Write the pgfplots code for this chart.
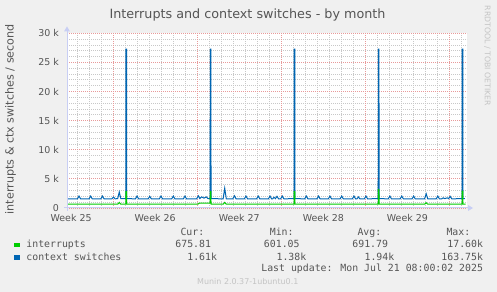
\documentclass[border=0pt]{standalone}
\usepackage{fontspec}
\setmainfont{DejaVu Sans}
\newfontfamily\monofont{DejaVu Sans Mono}
\usepackage{pgfplots}
\pgfplotsset{compat=1.18}
\definecolor{bg}{HTML}{F0F0F0}
\definecolor{txt}{HTML}{555555}
\definecolor{faint}{HTML}{C4C4C4}
\definecolor{axisc}{HTML}{C8CEF4}
\definecolor{gridc}{HTML}{C8C8C8}
\definecolor{mgridc}{HTML}{E89A9A}
\definecolor{cblue}{HTML}{0066B3}
\definecolor{cgreen}{HTML}{00CC00}
\begin{document}
\begin{tikzpicture}
\path[use as bounding box, fill=bg] (0bp,0bp) rectangle (497bp,292bp);
\begin{axis}[
  at={(67bp,84bp)}, anchor=south west,
  scale only axis, width=400bp, height=174.7bp,
  xmin=0, xmax=33.3, ymin=0, ymax=30000,
  clip=false,
  scaled y ticks=false, scaled x ticks=false,
  axis background/.style={fill=white},
  axis line style={draw=none},
  major tick length=0pt, minor tick length=0pt,
  tick style={draw=none},
  xtick={0.34,7.34,14.34,21.34,28.34},
  xticklabels={Week 25,Week 26,Week 27,Week 28,Week 29},
  minor xtick={0.84,1.84,2.84,4.84,5.84,6.84,7.84,8.84,9.84,11.84,12.84,13.84,14.84,15.84,16.84,18.84,19.84,20.84,21.84,22.84,23.84,25.84,26.84,27.84,28.84,29.84,30.84,32.84},
  extra x ticks={3.84,10.84,17.84,24.84,31.84},
  extra x tick labels={},
  extra x tick style={xmajorgrids=true},
  xmajorgrids=false, xminorgrids=true,
  ytick={0,5000,10000,15000,20000,25000,30000},
  yticklabels={0,5 k,10 k,15 k,20 k,25 k,30 k},
  minor ytick={1000,2000,3000,4000,6000,7000,8000,9000,11000,12000,13000,14000,16000,17000,18000,19000,21000,22000,23000,24000,26000,27000,28000,29000},
  ymajorgrids=true, yminorgrids=true,
  minor grid style={gridc, dash pattern=on 1bp off 1bp, line width=0.8bp},
  major grid style={mgridc, dash pattern=on 1bp off 1bp, line width=0.8bp},
  ticklabel style={font=\fontsize{9.5}{11}\selectfont, text=txt},
  yticklabel style={xshift=-4.5bp},
  xticklabel style={yshift=-3bp},
]
\addplot[cblue, line width=1bp, mark=none] coordinates {
(0,1580)
(0.87,1580)(1.00,2050)(1.13,1580)
(1.84,1580)(1.97,2050)(2.10,1580)
(2.82,1580)(2.95,2050)(3.08,1580)
(3.74,1580)(3.87,1870)(4.00,1580)
(4.22,1600)(4.35,2750)(4.48,1600)
(4.90,1600)(4.91,27300)(4.96,27300)(4.97,1600)
(5.70,1580)(5.83,2050)(5.96,1580)
(6.76,1580)(6.89,2000)(7.02,1580)
(7.69,1580)(7.82,2050)(7.95,1580)
(8.72,1580)(8.85,2050)(8.98,1580)
(9.69,1580)(9.82,2050)(9.95,1580)
(10.80,1580)(10.93,2080)(11.06,1620)(11.2,1900)(11.4,1700)(11.6,1900)(11.75,1600)
(11.92,1600)(11.93,27300)(11.98,27300)(11.99,1600)
(13.00,1580)(13.13,3400)(13.26,1580)
(13.81,1580)(13.94,2100)(14.07,1580)
(14.77,1580)(14.90,2050)(15.03,1580)
(15.79,1580)(15.92,2050)(16.05,1580)
(16.77,1580)(16.90,2050)(17.03,1580)
(17.13,1580)(17.23,1850)(17.35,1600)(17.48,2000)(17.61,1580)
(17.79,1580)(17.92,2050)(18.05,1580)
(18.90,1600)(18.91,27300)(18.96,27300)(18.97,1600)
(19.79,1580)(19.92,2050)(20.05,1580)
(20.81,1580)(20.94,2050)(21.07,1580)
(21.76,1580)(21.89,2050)(22.02,1580)
(22.74,1580)(22.87,2050)(23.00,1580)
(23.76,1580)(23.89,2050)(24.02,1580)
(24.14,1580)(24.26,1900)(24.38,1580)
(24.76,1580)(24.89,2050)(25.02,1580)
(25.91,1600)(25.92,27300)(25.97,27300)(25.98,1600)
(26.75,1580)(26.88,2050)(27.01,1580)
(27.74,1580)(27.87,2050)(28.00,1580)
(28.73,1580)(28.86,2050)(28.99,1580)
(29.77,1580)(29.90,2450)(30.03,1580)
(30.74,1580)(30.87,2050)(31.00,1580)
(31.20,1580)(31.32,1750)(31.45,1600)(31.65,1750)(31.77,1600)(31.90,2000)(32.03,1580)
(32.89,1600)(32.90,27300)(32.95,27300)(32.96,1600)
(33.13,1600)
};
\addplot[cgreen, line width=1bp, mark=none] coordinates {
(0,650)(4.22,650)(4.35,950)(4.48,650)
(4.90,650)(4.91,2800)(4.96,2800)(4.97,650)
(10.90,650)(11.00,820)(11.80,820)(11.92,820)(11.93,2800)(11.98,2800)(11.99,650)
(13.00,650)(13.13,950)(13.26,650)
(18.90,650)(18.91,2800)(18.96,2800)(18.97,650)
(25.91,650)(25.92,3200)(25.97,3200)(25.98,650)
(29.77,650)(29.90,900)(30.03,650)
(32.89,650)(32.90,2900)(32.95,2900)(32.96,650)(33.18,650)
};
\end{axis}
% axis lines with arrows
\draw[axisc, line width=1bp] (67bp,81bp) -- (67bp,261bp);
\fill[axisc] (64bp,260.5bp) -- (70bp,260.5bp) -- (67bp,265.5bp) -- cycle;
\draw[axisc, line width=1bp] (64bp,84bp) -- (469bp,84bp);
\fill[axisc] (468bp,81bp) -- (468bp,87bp) -- (473bp,84bp) -- cycle;
% titles
\node[anchor=base, text=txt, font=\fontsize{12.8}{14}\selectfont, inner sep=0] at (247.5bp,273.7bp) {Interrupts and context switches - by month};
\node[rotate=90, text=txt, font=\fontsize{11.2}{13}\selectfont, inner sep=0] at (10.5bp,172.8bp) {interrupts \& ctx switches / second};
\node[rotate=-90, text=faint, font=\fontsize{7.8}{9}\selectfont, inner sep=0] at (487.3bp,236bp) {RRDTOOL / TOBI OETIKER};
% legend
\begin{scope}[every node/.style={inner sep=0, text=txt, font=\monofont\fontsize{9.9}{12}\selectfont}]
\node[anchor=base east] at (204.5bp,56.3bp) {Cur:};
\node[anchor=base east] at (293.8bp,56.3bp) {Min:};
\node[anchor=base east] at (381.5bp,56.3bp) {Avg:};
\node[anchor=base east] at (470.5bp,56.3bp) {Max:};
\fill[cgreen] (14bp,44.7bp) rectangle (20bp,49.3bp);
\node[anchor=base west] at (26.2bp,44.3bp) {interrupts};
\node[anchor=base east] at (211.2bp,44.3bp) {675.81};
\node[anchor=base east] at (299.8bp,44.3bp) {601.05};
\node[anchor=base east] at (388.2bp,44.3bp) {691.79};
\node[anchor=base east] at (483.2bp,44.3bp) {17.60k};
\fill[cblue] (14bp,32bp) rectangle (20bp,37bp);
\node[anchor=base west] at (26.2bp,32bp) {context switches};
\node[anchor=base east] at (217.2bp,32bp) {1.61k};
\node[anchor=base east] at (306.5bp,32bp) {1.38k};
\node[anchor=base east] at (394.5bp,32bp) {1.94k};
\node[anchor=base east] at (483.2bp,32bp) {163.75k};
\node[anchor=base east] at (483.2bp,20.3bp) {Last update: Mon Jul 21 08:00:02 2025};
\end{scope}
\node[anchor=base, inner sep=0, text=faint, font=\fontsize{8}{9}\selectfont] at (247.8bp,8bp) {Munin 2.0.37-1ubuntu0.1};
\end{tikzpicture}
\end{document}
